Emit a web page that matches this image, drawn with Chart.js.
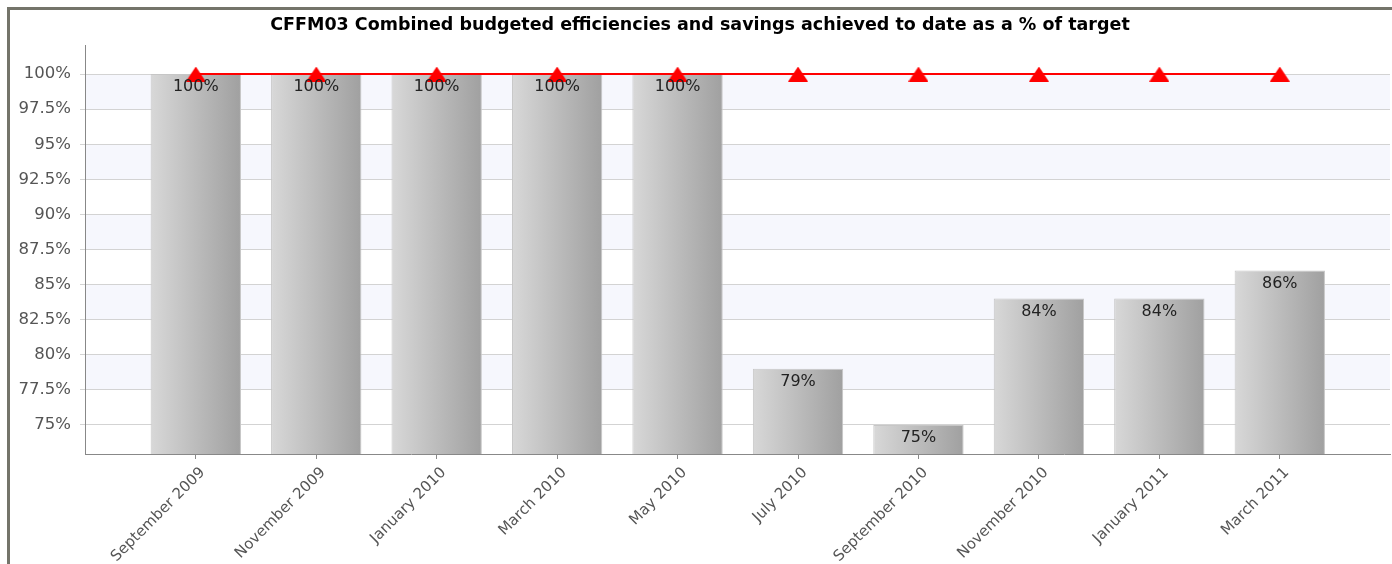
<!DOCTYPE html>
<html>
<head>
<meta charset="utf-8">
<title>CFFM03</title>
<script src="https://cdn.jsdelivr.net/npm/chart.js@4"></script>
<style>
  html, body { margin: 0; padding: 0; background: #fff; overflow: hidden; width: 1392px; height: 564px; }
  #frame { position: absolute; left: 7px; top: 7px; width: 1385px; height: 557px;
           border-top: 3px solid #74746a; border-left: 3px solid #74746a; box-sizing: border-box; }
  #wrap { position: absolute; left: 10px; top: 10px; width: 1382px; height: 554px; }
</style>
</head>
<body>
<div id="frame"></div>
<div id="wrap"><canvas id="chart"></canvas></div>
<script>
// data
const months = ['September 2009', 'November 2009', 'January 2010', 'March 2010', 'May 2010',
                'July 2010', 'September 2010', 'November 2010', 'January 2011', 'March 2011'];
const achieved = [100, 100, 100, 100, 100, 79, 75, 84, 84, 86];
const target = [100, 100, 100, 100, 100, 100, 100, 100, 100, 100];
const yTicks = [75, 77.5, 80, 82.5, 85, 87.5, 90, 92.5, 95, 97.5, 100];

Chart.defaults.font.family = '"DejaVu Sans", Verdana, sans-serif';

// red triangle marker, centred on the point
const tri = document.createElement('canvas');
tri.width = 20;
tri.height = 15;
const tctx = tri.getContext('2d');
tctx.fillStyle = '#ff0000';
tctx.beginPath();
tctx.moveTo(0, 15);
tctx.lineTo(10, 0);
tctx.lineTo(20, 15);
tctx.closePath();
tctx.fill();

// light stripes between every other gridline
const bands = {
    id: 'bands',
    beforeDraw(chart) {
        const { ctx, chartArea: a, scales: { y } } = chart;
        ctx.save();
        ctx.fillStyle = '#f6f7fd';
        for (let i = 1; i < yTicks.length - 1; i += 2) {
            const top = y.getPixelForValue(yTicks[i + 1]);
            const bot = y.getPixelForValue(yTicks[i]);
            ctx.fillRect(a.left, top, a.right - a.left, bot - top);
        }
        ctx.restore();
    }
};

// value labels inside the top of each bar
const valueLabels = {
    id: 'valueLabels',
    afterDraw(chart) {
        const ctx = chart.ctx;
        const meta = chart.getDatasetMeta(1);
        ctx.save();
        ctx.font = '16px "DejaVu Sans"';
        ctx.fillStyle = '#222';
        ctx.textAlign = 'center';
        ctx.textBaseline = 'middle';
        meta.data.forEach((bar, i) => ctx.fillText(achieved[i] + '%', bar.x, bar.y + 13));
        ctx.restore();
    }
};

const barFill = (c) => {
    const chart = c.chart;
    const xs = chart.scales.x;
    if (!xs || !chart.chartArea) return '#bdbdbd';
    const cx = xs.getPixelForValue(c.dataIndex);
    const w = (xs.getPixelForValue(1) - xs.getPixelForValue(0)) * 0.75;
    const g = chart.ctx.createLinearGradient(cx - w / 2, 0, cx + w / 2, 0);
    g.addColorStop(0, '#d8d8d8');
    g.addColorStop(1, '#a0a0a0');
    return g;
};

new Chart(document.getElementById('chart'), {
    data: {
        datasets: [{
            type: 'line',
            order: 0,
            data: target.map((v, i) => ({ x: i, y: v })),
            borderColor: '#ff0000',
            borderWidth: 2,
            pointStyle: tri,
            pointRadius: 10
        }, {
            type: 'bar',
            order: 1,
            data: achieved.map((v, i) => ({ x: i, y: v })),
            backgroundColor: barFill,
            borderColor: '#c6c6c6',
            borderWidth: 1,
            categoryPercentage: 1,
            barPercentage: 0.75
        }]
    },
    options: {
        responsive: true,
        maintainAspectRatio: false,
        animation: false,
        layout: { autoPadding: false, padding: { left: 0, right: 2, top: 0, bottom: 0 } },
        plugins: {
            legend: { display: false },
            tooltip: { enabled: false },
            title: {
                display: true,
                text: 'CFFM03 Combined budgeted efficiencies and savings achieved to date as a % of target',
                color: '#000',
                font: { size: 17.5, weight: 'bold' },
                padding: { top: 5, bottom: 9 }
            }
        },
        scales: {
            x: {
                type: 'linear',
                offset: false,
                min: -0.92,
                max: 9.915,
                afterBuildTicks: s => { s.ticks = months.map((m, i) => ({ value: i })); },
                afterFit: s => { s.height = 110; s.paddingLeft = 0; s.paddingRight = 0; },
                ticks: {
                    callback: v => months[v],
                    autoSkip: false,
                    minRotation: 45,
                    maxRotation: 45,
                    color: '#555',
                    font: { size: 15 },
                    padding: 5,
                    labelOffset: 7
                },
                grid: { offset: false, drawOnChartArea: false, tickLength: 5, color: '#888' },
                border: { color: '#888' }
            },
            y: {
                min: 72.93,
                max: 102.07,
                afterBuildTicks: s => { s.ticks = yTicks.map(v => ({ value: v })); },
                afterFit: s => { s.width = 75; },
                ticks: {
                    callback: v => v + '%',
                    color: '#555',
                    font: { size: 16.5 },
                    padding: 9
                },
                grid: { color: '#d3d3d3', tickLength: 5 },
                border: { color: '#888' }
            }
        }
    },
    plugins: [bands, valueLabels]
});
</script>
</body>
</html>
